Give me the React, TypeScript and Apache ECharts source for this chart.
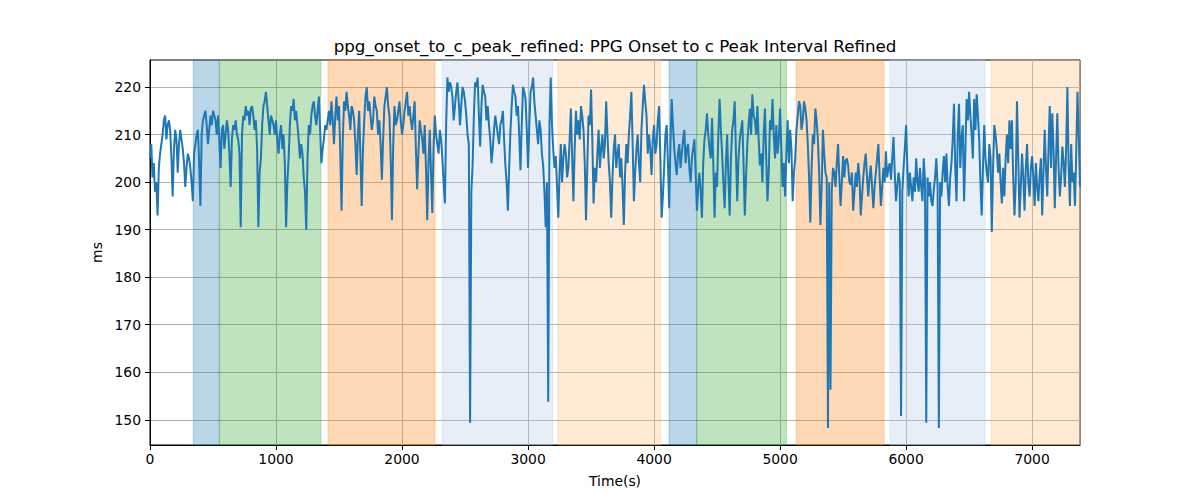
import { useEffect, useRef } from "react";
import * as echarts from "echarts";

const TITLE = "ppg_onset_to_c_peak_refined: PPG Onset to c Peak Interval Refined";
const X_NAME = "Time(s)";
const Y_NAME = "ms";

// sample clock (s): "on" samples sit at k*20 s, "mid" samples at k*20+10 s
const STEP_S = 20;
const HALF_S = 10;

// interval values (ms), in 1000 s chunks
const on0000 = [
  205, 201, 198, 193, 206, 210, 214, 212, 211, 197, 211, 202, 211, 207, 199, 206, 203, 196, 208, 211,
  195, 213, 215, 208, 214, 215, 213, 214, 203, 212, 210, 211, 199, 212, 213, 209, 190.5, 214, 216, 215,
  215.5, 214, 213, 190.5, 205, 216, 219, 213, 214, 212,
];
const mid0000 = [
  208, 204, 200, 203, 208, 213, 209, 213, 205, 207, 209, 208, 209, 204, 203, 205, 200, 206, 210, 204,
  210, 214, 212, 211, 212, 214, 210, 209, 211, 207, 213, 206, 209, 211, 210, 206, 210, 213, 214, 212,
  216, 211, 207, 202, 212, 217, 216, 210, 213, 210,
];
const on1000 = [
  213, 206, 212, 210, 190.5, 205, 216, 217.5, 215, 209, 208, 201, 190, 212, 214, 217, 212, 218, 204, 209,
  211, 215, 217, 208, 218, 216, 194, 217, 219, 214, 216, 213, 201.5, 215, 195, 213, 220, 217, 211, 218,
  215, 213, 200.5, 216, 220, 214, 192, 216, 213, 217,
];
const mid1000 = [
  209, 210, 207, 204, 200, 212, 215, 213, 212, 205, 206, 198, 205, 210, 216, 214, 215, 211, 207, 212,
  213, 212, 213, 214, 213, 206, 209, 215, 216, 211, 215, 208, 210, 205, 207, 218, 215, 214, 213, 216,
  210, 208, 209, 218, 216, 205, 208, 212, 215, 213,
];
const on2000 = [
  210, 215, 219, 216, 211, 217, 198.5, 213, 209, 212, 192, 211, 193.5, 214, 208, 211, 205, 195.5, 222, 221,
  218, 216, 221, 212, 220, 217, 210, 149.4, 203.5, 221, 222, 207.5, 220.5, 218, 216, 209, 207, 214, 210, 212,
  215, 203.5, 194, 210.5, 220.5, 218, 216, 202.5, 220, 217.5,
];
const mid2000 = [
  212, 217, 214, 213, 214, 207, 206, 211, 206, 203, 204, 202, 207, 210, 206, 209, 200, 212, 219, 220,
  213, 219, 217, 216, 219, 214, 208, 198, 214, 220, 214, 216, 219, 213, 212, 204, 211, 212, 208, 213,
  209, 200, 203, 216, 219, 214, 210, 212, 219, 211,
];
const on3000 = [
  203, 219, 222, 214, 208, 211, 203.5, 190.5, 153.8, 222, 207, 205.5, 192.5, 208, 205, 206, 203, 215.5, 196, 215,
  213, 216, 211, 192, 214, 219.5, 195.5, 200, 211, 207, 205, 217, 204, 192.5, 207, 203, 208, 205, 191, 208,
  210, 219, 196, 207, 204, 211, 220.5, 214, 210, 201.5,
];
const mid3000 = [
  212, 220, 217, 211, 213, 206, 198, 200, 212, 212, 203, 199, 202, 200, 208, 201, 209, 205, 207, 210,
  209, 214, 204, 203, 212, 209, 203, 206, 203, 210, 208, 210, 200, 201, 210, 206, 201, 199, 202, 204,
  214, 208, 202, 210, 200, 216, 217, 206, 207, 209,
];
const on4000 = [
  212, 208, 216, 192.5, 203, 212, 194.5, 217.5, 207, 201.5, 208, 206, 211, 207, 203, 205, 209, 194, 202, 192.5,
  209, 214.5, 207, 213.5, 192.5, 199, 217.5, 206, 194.5, 210, 193, 211, 217, 196, 209, 213, 193, 208, 215.5, 218.5,
  213, 216, 203.5, 200, 215.5, 196, 213, 217.5, 205, 206,
];
const mid4000 = [
  206, 213, 205, 197, 210, 204, 208, 212, 204, 206, 203, 209, 204, 208, 200, 207, 202, 199, 198, 204,
  211, 210, 205, 204, 202, 210, 211, 200, 204, 201, 205, 213, 206, 205, 211, 204, 201, 212, 210, 214,
  210, 209, 206, 210, 205, 202, 211, 210, 212, 209,
];
const on5000 = [
  215.5, 199, 197, 213, 211, 196, 205, 214, 216, 213, 215.5, 208, 191.5, 210, 215.5, 209, 191, 211, 202, 148.3,
  156.3, 203, 199, 208, 195, 205.5, 204.5, 203.5, 199.5, 194, 202, 204, 193, 201, 206, 197, 203.5, 194.5, 202, 208,
  195, 203, 206.5, 203, 200.5, 209.5, 196, 202, 150.8, 203,
];
const mid5000 = [
  207, 204, 206, 204, 207, 202, 211, 217, 211, 217, 213, 201, 203, 208, 213, 202, 199, 206, 201, 200,
  198, 202, 204, 201, 200, 201, 205, 200, 202, 198, 199, 201, 197, 204, 201, 201, 199, 199, 205, 201,
  199, 200, 201, 204, 205, 202, 199, 200, 198, 207,
];
const on6000 = [
  212, 197, 199, 201, 205, 198, 199, 205, 149.4, 197, 196, 198.5, 205, 148.3, 197, 205.5, 206, 195, 204, 216.5,
  196, 216.5, 209.5, 196, 217.5, 219, 210, 217.5, 218.5, 209, 193, 212, 202, 208, 189.5, 212, 207, 206, 195.5, 197,
  210, 213, 213, 193, 217, 192.5, 206, 194, 208, 197,
];
const mid6000 = [
  203, 202, 196, 198, 200, 203, 196, 200, 201, 200, 195, 201, 199, 200, 202, 200, 199, 201, 209, 203,
  210, 203, 212, 206, 213, 214, 205, 211, 214, 200, 203, 205, 200, 205, 203, 210, 202, 200, 203, 205,
  204, 207, 201, 200, 205, 199, 201, 203, 200, 203,
];
const on7000 = [
  205.5, 195, 199, 201.5, 193, 211, 197, 216, 214.5, 194.5, 214.5, 197, 207.5, 199, 220, 195, 200, 195, 219, 199,
];
const mid7000 = [
  201, 204, 196, 205, 202, 203, 207, 203, 207, 205, 203, 201, 204, 207, 203, 208, 202, 206, 210,
];

// shaded phases: start (s), end (s), phase index
const spanStart = [344, 550, 1413, 2320, 3236, 4119, 4339, 5127, 5873, 6675];
const spanEnd = [550, 1355, 2262, 3196, 4053, 4339, 5050, 5825, 6627, 7380];
const spanPhase = [0, 1, 2, 3, 4, 0, 1, 2, 3, 4];

const X_TICKS = [0, 1000, 2000, 3000, 4000, 5000, 6000, 7000];
const Y_TICKS = [150, 160, 170, 180, 190, 200, 210, 220];

const PHASE_COLORS = [
  "rgba(31,119,180,0.3)",
  "rgba(44,160,44,0.3)",
  "rgba(255,127,14,0.3)",
  "rgba(174,199,232,0.3)",
  "rgba(255,187,120,0.3)",
];

const FONT = "DejaVu Sans";

export default function App() {
  const ref = useRef<HTMLDivElement>(null);

  useEffect(() => {
    if (!ref.current) return;
    const chart = echarts.init(ref.current, null, { renderer: "svg" });

    const on = [...on0000, ...on1000, ...on2000, ...on3000, ...on4000, ...on5000, ...on6000, ...on7000];
    const mid = [...mid0000, ...mid1000, ...mid2000, ...mid3000, ...mid4000, ...mid5000, ...mid6000, ...mid7000];
    const points: number[][] = [];
    on.forEach((v, k) => {
      points.push([k * STEP_S, v]);
      if (k < mid.length) points.push([k * STEP_S + HALF_S, mid[k]]);
    });

    const areas = spanStart.map((s, i) => {
      const c = PHASE_COLORS[spanPhase[i]];
      return [
        { xAxis: s, itemStyle: { color: c, borderColor: c, borderWidth: 1 } },
        { xAxis: spanEnd[i] },
      ];
    });

    chart.setOption({
      animation: false,
      textStyle: { fontFamily: FONT },
      title: {
        text: TITLE,
        left: 615,
        top: 37,
        padding: 0,
        textAlign: "center",
        textStyle: { fontFamily: FONT, fontSize: 16.7, fontWeight: "normal", color: "#000" },
      },
      grid: {
        left: 150,
        right: 120,
        top: 60,
        bottom: 55,
        show: true,
        borderColor: "#000",
        borderWidth: 1,
        backgroundColor: "transparent",
      },
      xAxis: {
        type: "value",
        min: 0,
        max: 7380,
        interval: 1000,
        name: X_NAME,
        nameLocation: "middle",
        nameGap: 29,
        nameTextStyle: { fontFamily: FONT, fontSize: 13.9, color: "#000" },
        axisLine: { show: true, lineStyle: { color: "#000", width: 1 } },
        axisTick: { show: true, length: 5, lineStyle: { color: "#000" }, customValues: X_TICKS },
        axisLabel: {
          fontFamily: FONT,
          fontSize: 13.9,
          color: "#000",
          margin: 7,
          customValues: X_TICKS,
          formatter: (v: number) => String(v),
        },
        splitLine: { show: true, lineStyle: { color: "#b0b0b0", width: 1 } },
      },
      yAxis: {
        type: "value",
        min: 144.7,
        max: 225.7,
        splitNumber: 8,
        name: Y_NAME,
        nameLocation: "middle",
        nameGap: 42,
        nameTextStyle: { fontFamily: FONT, fontSize: 13.9, color: "#000" },
        axisLine: { show: true, lineStyle: { color: "#000", width: 1 } },
        axisTick: { show: true, length: 5, lineStyle: { color: "#000" }, customValues: Y_TICKS },
        axisLabel: {
          fontFamily: FONT,
          fontSize: 13.9,
          color: "#000",
          margin: 9,
          customValues: Y_TICKS,
          formatter: (v: number) => String(v),
        },
        splitLine: { show: true, lineStyle: { color: "#b0b0b0", width: 1 } },
      },
      series: [
        {
          type: "line",
          data: [],
          z: -1,
          silent: true,
          markArea: { silent: true, data: areas },
        },
        {
          type: "line",
          data: points,
          showSymbol: false,
          z: 3,
          lineStyle: { color: "#1f77b4", width: 2 },
        },
      ],
    });

    return () => chart.dispose();
  }, []);

  return <div ref={ref} style={{ position: "absolute", left: 0, top: 0, width: 1200, height: 500 }} />;
}
